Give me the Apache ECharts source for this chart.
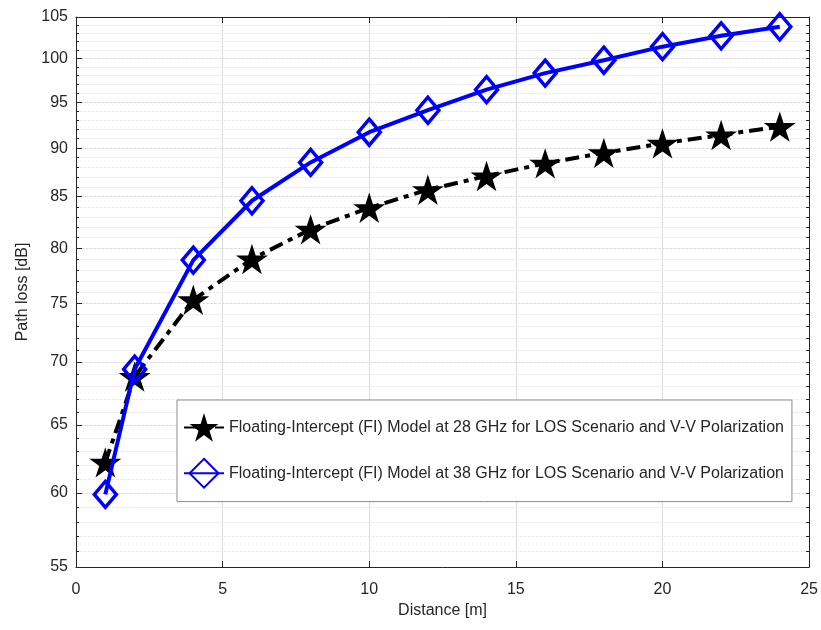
<!DOCTYPE html>
<html>
<head>
<meta charset="utf-8">
<script src="https://cdn.jsdelivr.net/npm/echarts@6/dist/echarts.min.js"></script>
<style>
  html, body { margin: 0; padding: 0; background: #fff; }
  #chart { width: 821px; height: 630px; }
</style>
</head>
<body>
<div id="chart"></div>
<script>
// distances [m]
const distance = [1, 2, 4, 6, 8, 10, 12, 14, 16, 18, 20, 22, 24];
// FI model, 28 GHz
const pl28 = [62.2, 68.8, 75.3, 79.0, 81.8, 83.9, 85.7, 87.1, 88.4, 89.5, 90.5, 91.4, 92.3];
// FI model, 38 GHz
const pl38 = [59.9, 69.4, 78.9, 84.6, 88.5, 91.7, 94.1, 96.4, 98.3, 99.8, 101.4, 102.7, 103.8];

const yMajor = [55, 60, 65, 70, 75, 80, 85, 90, 95, 100, 105];
const yMinor = [];
for (let v = 55; v <= 105; v++) yMinor.push(v);

const name28 = 'Floating-Intercept (FI) Model at 28 GHz for LOS Scenario and V-V Polarization';
const name38 = 'Floating-Intercept (FI) Model at 38 GHz for LOS Scenario and V-V Polarization';

const star = 'path://M50 0 L61.17 34.63 L97.55 34.55 L68.07 55.87 L79.39 90.45 L50 69 L20.61 90.45 L31.93 55.87 L2.45 34.55 L38.83 34.63 Z';

const font = 'Liberation Sans, Arial, sans-serif';
const textColor = '#262626';

const chart = echarts.init(document.getElementById('chart'));

const logAxis = {
  type: 'log',
  min: 55,
  max: 105,
  logBase: 10,
};

chart.setOption({
  animation: false,
  backgroundColor: '#fff',
  grid: { left: 76, right: 10, top: 17, bottom: 63 },
  legend: {
    left: 177,
    top: 400,
    orient: 'vertical',
    itemWidth: 40,
    itemHeight: 36,
    itemGap: 16,
    padding: [13, 8, 13, 6],
    backgroundColor: '#fff',
    borderColor: '#8c8c8c',
    borderWidth: 1,
    textStyle: { fontFamily: font, fontSize: 16, color: textColor, padding: [0, 0, 0, 0] },
    data: [name28, name38],
  },
  xAxis: [
    {
      type: 'value',
      min: 0,
      max: 25,
      interval: 5,
      name: 'Distance [m]',
      nameLocation: 'middle',
      nameGap: 34,
      nameTextStyle: { fontFamily: font, fontSize: 16, color: textColor },
      axisLine: { onZero: false, lineStyle: { color: '#262626', width: 1 } },
      axisTick: { inside: true, length: 6, lineStyle: { color: '#262626' } },
      axisLabel: { fontFamily: font, fontSize: 16, color: textColor, margin: 15 },
      splitLine: { show: true, lineStyle: { color: '#dcdcdc', width: 1 } },
    },
    {
      type: 'value',
      position: 'top',
      min: 0,
      max: 25,
      interval: 5,
      axisLine: { onZero: false, lineStyle: { color: '#262626', width: 1 } },
      axisTick: { inside: true, length: 6, lineStyle: { color: '#262626' } },
      axisLabel: { show: false },
      splitLine: { show: false },
    },
  ],
  yAxis: [
    Object.assign({}, logAxis, {
      position: 'left',
      name: 'Path loss [dB]',
      nameLocation: 'middle',
      nameGap: 44,
      nameTextStyle: { fontFamily: font, fontSize: 16, color: textColor },
      axisLine: { show: true, onZero: false, lineStyle: { color: '#262626', width: 1 } },
      axisTick: { show: true, inside: true, length: 6, customValues: yMajor, lineStyle: { color: '#262626' } },
      axisLabel: { fontFamily: font, fontSize: 16, color: textColor, margin: 8, customValues: yMajor },
      splitLine: { show: true, lineStyle: { color: '#d6d6d6', width: 1 } },
    }),
    Object.assign({}, logAxis, {
      position: 'left',
      axisLine: { show: false },
      axisTick: { show: true, inside: true, length: 3, customValues: yMinor, lineStyle: { color: '#262626' } },
      axisLabel: { show: false, customValues: yMinor },
      splitLine: { show: true, lineStyle: { color: '#ebebeb', width: 1, type: [3, 1] } },
    }),
    Object.assign({}, logAxis, {
      position: 'right',
      axisLine: { show: true, onZero: false, lineStyle: { color: '#262626', width: 1 } },
      axisTick: { show: true, inside: true, length: 3, customValues: yMinor, lineStyle: { color: '#262626' } },
      axisLabel: { show: false, customValues: yMinor },
      splitLine: { show: false },
    }),
  ],
  series: [
    {
      name: name28,
      type: 'line',
      xAxisIndex: 0,
      yAxisIndex: 0,
      data: distance.map((d, i) => [d, pl28[i]]),
      symbol: star,
      symbolSize: 32,
      symbolKeepAspect: true,
      itemStyle: { color: '#000' },
      lineStyle: { color: '#000', width: 4, type: [14, 6, 5, 6] },
      z: 3,
    },
    {
      name: name38,
      type: 'line',
      xAxisIndex: 0,
      yAxisIndex: 0,
      data: distance.map((d, i) => [d, pl38[i]]),
      symbol: 'diamond',
      symbolSize: [22, 26],
      itemStyle: { color: 'rgba(255,255,255,0)', borderColor: '#0000ff', borderWidth: 3.5 },
      lineStyle: { color: '#0000ff', width: 4 },
      z: 4,
    },
  ],
});
</script>
</body>
</html>
